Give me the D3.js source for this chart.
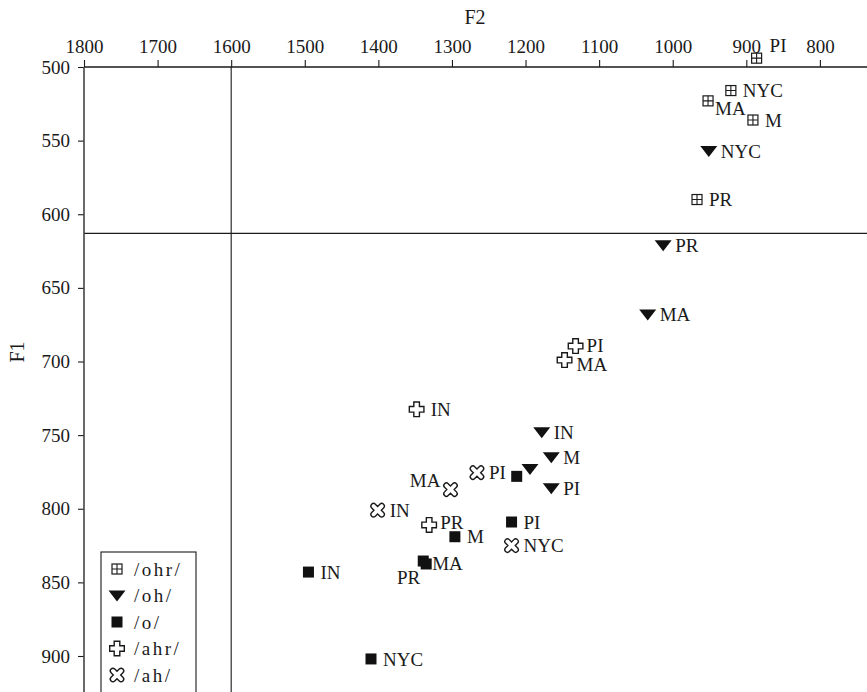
<!DOCTYPE html>
<html>
<head>
<meta charset="utf-8">
<script src="https://cdn.jsdelivr.net/npm/d3@7"></script>
<style>
  html, body { margin: 0; padding: 0; background: #fff; }
  svg { display: block; }
  text { font-family: "Liberation Serif", "Times New Roman", serif; fill: #1a1a1a; }
</style>
</head>
<body>
<svg id="chart" width="867" height="692"></svg>
<script>
// Vowel formant means (Hz) by dialect group
const seriesNames = ["/ohr/", "/oh/", "/o/", "/ahr/", "/ah/"];

const ohrLabels = ["PI", "NYC", "MA", "M", "PR"];
const ohrF2 = [886, 921, 952, 891, 967];
const ohrF1 = [494, 516, 523, 536, 590];

const ohLabels = ["NYC", "PR", "MA", "IN", "M", "", "PI"];
const ohF2 = [951, 1013, 1034, 1178, 1165, 1194, 1165];
const ohF1 = [557, 621, 668, 748, 765, 773, 786];

const oLabels = ["", "PI", "M", "PR", "MA", "IN", "NYC"];
const oF2 = [1212, 1219, 1296, 1339, 1335, 1495, 1410];
const oF1 = [778, 809, 819, 835.5, 837.5, 843, 902];

const ahrLabels = ["PI", "MA", "IN", "PR"];
const ahrF2 = [1132, 1147, 1348, 1331];
const ahrF1 = [689.5, 699, 732.5, 811];

const ahLabels = ["PI", "MA", "IN", "NYC"];
const ahF2 = [1266, 1302, 1401, 1219];
const ahF1 = [775.5, 787, 801, 825];

const f2Ticks = [1800, 1700, 1600, 1500, 1400, 1300, 1200, 1100, 1000, 900, 800];
const f1Ticks = [500, 550, 600, 650, 700, 750, 800, 850, 900];

// Reference lines
const f2Reference = 1600;
const f1Reference = 613;

// Visible extent of the formant space
const f2Extent = [1800, 736];
const f1Extent = [500, 925];

const series = [
  { name: seriesNames[0], key: "ohr", labels: ohrLabels, f2: ohrF2, f1: ohrF1 },
  { name: seriesNames[1], key: "oh",  labels: ohLabels,  f2: ohF2,  f1: ohF1 },
  { name: seriesNames[2], key: "o",   labels: oLabels,   f2: oF2,   f1: oF1 },
  { name: seriesNames[3], key: "ahr", labels: ahrLabels, f2: ahrF2, f1: ahrF1 },
  { name: seriesNames[4], key: "ah",  labels: ahLabels,  f2: ahF2,  f1: ahF1 }
];

const svg = d3.select("#chart");
const W = 867, H = 692;
const plotLeft = 84, plotTop = 67;
const fontSize = "19px";

const x = d3.scaleLinear().domain(f2Extent).range([plotLeft, W]);
const y = d3.scaleLinear().domain(f1Extent).range([plotTop, plotTop + (f1Extent[1] - f1Extent[0]) * 1.4725]);

const ink = "#1a1a1a";

// Marker glyphs
function crossPath(a, r) {
  return `M${-a},${-r}H${a}V${-a}H${r}V${a}H${a}V${r}H${-a}V${a}H${-r}V${-a}H${-a}Z`;
}
function roundCrossPath(a, r) {
  return `M${a},${-a}L${a},${-r}A${a},${a} 0 0 0 ${-a},${-r}L${-a},${-a}` +
         `L${-r},${-a}A${a},${a} 0 0 0 ${-r},${a}L${-a},${a}` +
         `L${-a},${r}A${a},${a} 0 0 0 ${a},${r}L${a},${a}` +
         `L${r},${a}A${a},${a} 0 0 0 ${r},${-a}Z`;
}
function drawMarker(g, key) {
  if (key === "ohr") {
    g.append("rect").attr("x", -5).attr("y", -5).attr("width", 10).attr("height", 10)
      .attr("fill", "#fff").attr("stroke", ink).attr("stroke-width", 1.2);
    g.append("path").attr("d", "M0,-5V5M-5,0H5").attr("stroke", ink).attr("stroke-width", 1.1);
  } else if (key === "oh") {
    g.append("path").attr("d", "M-8.5,-5L8.5,-5L0,6Z").attr("fill", "#111");
  } else if (key === "o") {
    g.append("rect").attr("x", -5.5).attr("y", -5.5).attr("width", 11).attr("height", 11).attr("fill", "#111");
  } else if (key === "ahr") {
    g.append("path").attr("d", crossPath(2.8, 7.3))
      .attr("fill", "#fff").attr("stroke", ink).attr("stroke-width", 1.4);
  } else if (key === "ah") {
    g.append("path").attr("d", roundCrossPath(2.6, 5.8)).attr("transform", "rotate(45)")
      .attr("fill", "#fff").attr("stroke", ink).attr("stroke-width", 1.4);
  }
}

// Label placement: default to the right of the marker, with a few adjustments
const labelPlacement = {
  "ohr|PI":  { dx: 13, dy: -13, anchor: "start" },
  "ohr|MA":  { dx: 7,  dy: 7,   anchor: "start" },
  "ahr|MA":  { dx: 12, dy: 4,   anchor: "start" },
  "ahr|PI":  { dx: 11, dy: -1,  anchor: "start" },
  "ahr|PR":  { dx: 11, dy: -3,  anchor: "start" },
  "ah|MA":   { dx: -10, dy: -9, anchor: "end" },
  "o|PR":    { dx: -3, dy: 16,  anchor: "end" },
  "o|MA":    { dx: 6,  dy: -1,  anchor: "start" }
};

// Reference lines
svg.append("line")
  .attr("x1", x(f2Reference)).attr("x2", x(f2Reference))
  .attr("y1", y(f1Extent[0])).attr("y2", y(f1Extent[1]))
  .attr("stroke", ink).attr("stroke-width", 1.1);
svg.append("line")
  .attr("x1", x(f2Extent[0])).attr("x2", x(f2Extent[1]))
  .attr("y1", y(f1Reference)).attr("y2", y(f1Reference))
  .attr("stroke", ink).attr("stroke-width", 1.1);

// Axes
const xAxis = d3.axisTop(x).tickValues(f2Ticks).tickSize(7).tickPadding(7).tickFormat(d3.format("d"));
const yAxis = d3.axisLeft(y).tickValues(f1Ticks).tickSize(6).tickPadding(8).tickFormat(d3.format("d"));

const gx = svg.append("g").attr("transform", `translate(0,${plotTop})`).call(xAxis);
const gy = svg.append("g").attr("transform", `translate(${plotLeft},0)`).call(yAxis);
[gx, gy].forEach(g => {
  g.select(".domain").remove();
  g.selectAll(".tick line").attr("stroke", ink).attr("stroke-width", 1.1);
  g.selectAll(".tick text").attr("fill", ink).style("font-size", fontSize)
    .style("font-family", '"Liberation Serif", serif');
});
svg.append("line").attr("x1", plotLeft).attr("x2", W).attr("y1", plotTop).attr("y2", plotTop)
  .attr("stroke", ink).attr("stroke-width", 1.3);
svg.append("line").attr("x1", plotLeft).attr("x2", plotLeft).attr("y1", plotTop).attr("y2", H)
  .attr("stroke", "#444").attr("stroke-width", 1.6);

// Axis titles
svg.append("text").attr("x", 475).attr("y", 24).attr("text-anchor", "middle")
  .style("font-size", "20px").text("F2");
svg.append("text").attr("transform", "translate(24,352) rotate(-90)").attr("text-anchor", "middle")
  .style("font-size", "20px").text("F1");

// Points and labels
series.forEach(s => {
  s.f2.forEach((f2, i) => {
    const px = x(f2), py = y(s.f1[i]);
    const g = svg.append("g").attr("transform", `translate(${px},${py})`);
    drawMarker(g, s.key);
    const lab = s.labels[i];
    if (lab) {
      const p = labelPlacement[`${s.key}|${lab}`] || { dx: s.key === "ahr" ? 14 : 12, dy: 0, anchor: "start" };
      svg.append("text")
        .attr("x", px + p.dx).attr("y", py + p.dy).attr("dy", "0.35em")
        .attr("text-anchor", p.anchor)
        .style("font-size", fontSize)
        .text(lab);
    }
  });
});

// Legend
const legend = svg.append("g");
legend.append("rect").attr("x", 101).attr("y", 552).attr("width", 95).attr("height", 160)
  .attr("fill", "#fff").attr("stroke", ink).attr("stroke-width", 1.1);
series.forEach((s, i) => {
  const ly = 569 + i * 26.5;
  const g = legend.append("g").attr("transform", `translate(117,${ly})`);
  drawMarker(g, s.key);
  legend.append("text").attr("x", 134).attr("y", ly).attr("dy", "0.35em")
    .style("font-size", fontSize).style("letter-spacing", "2.5px").text(s.name);
});
</script>
</body>
</html>
